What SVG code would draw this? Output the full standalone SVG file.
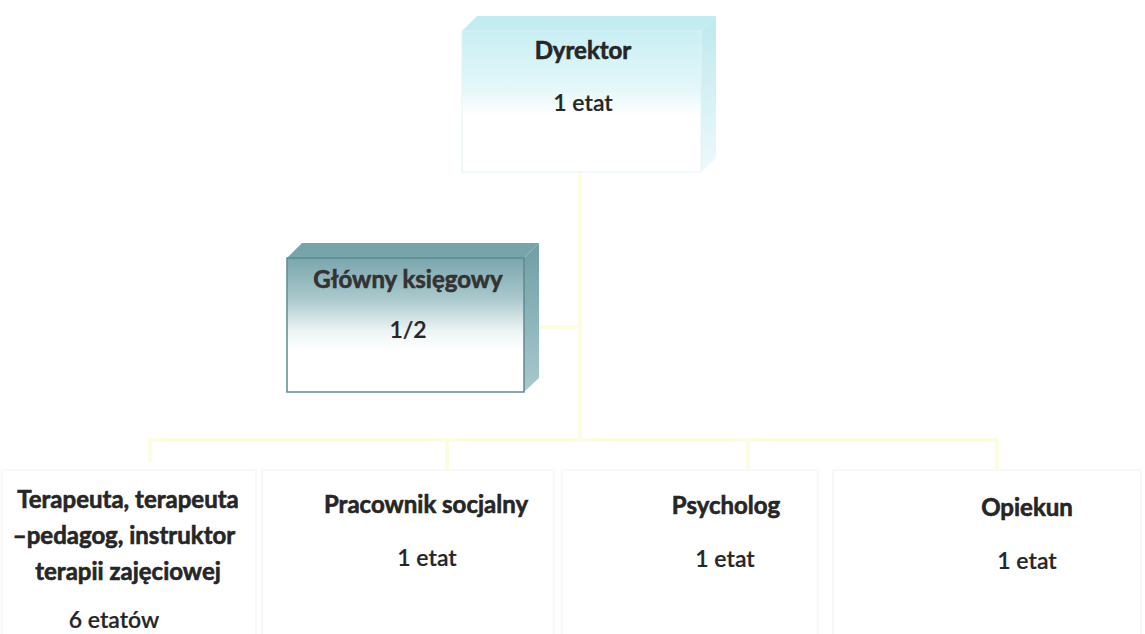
<svg xmlns="http://www.w3.org/2000/svg" width="1145" height="634" viewBox="0 0 1145 634">
<defs>
<linearGradient id="gDir" x1="0" y1="0" x2="0" y2="1">
<stop offset="0" stop-color="#c9eff4"/>
<stop offset="0.4" stop-color="#e3f7f9"/>
<stop offset="0.6" stop-color="#ffffff"/>
<stop offset="1" stop-color="#ffffff"/>
</linearGradient>
<linearGradient id="gDirSide" x1="0" y1="0" x2="0" y2="1">
<stop offset="0" stop-color="#bde9ee"/>
<stop offset="1" stop-color="#eef9fa"/>
</linearGradient>
<linearGradient id="gKs" x1="0" y1="0" x2="0" y2="1">
<stop offset="0" stop-color="#7aa6ad"/>
<stop offset="0.3" stop-color="#a9c8cc"/>
<stop offset="0.55" stop-color="#eef5f5"/>
<stop offset="0.7" stop-color="#ffffff"/>
<stop offset="1" stop-color="#ffffff"/>
</linearGradient>
<linearGradient id="gKsSide" x1="0" y1="0" x2="0" y2="1">
<stop offset="0" stop-color="#6f9ea5"/>
<stop offset="1" stop-color="#a9c9cd"/>
</linearGradient>
</defs>
<style>
.b{font-family:Lato,"Liberation Sans",sans-serif;font-weight:700;fill:#262626;stroke:#262626;stroke-width:0.6;text-anchor:middle;font-size:24px}
.r{font-family:Lato,"Liberation Sans",sans-serif;font-weight:600;fill:#262626;stroke:#262626;stroke-width:0.2;text-anchor:middle;font-size:23px}
.c{stroke:#fcfce3;stroke-width:4;fill:none}
.n{fill:#ffffff;stroke:#f7f9f9;stroke-width:2}
</style>
<rect width="1145" height="634" fill="#ffffff"/>
<g id="connectors">
<path class="c" d="M580 172 V440"/>
<path class="c" d="M538 327 H580"/>
<path class="c" d="M148 440 H998"/>
<path class="c" d="M150 440 V462"/>
<path class="c" d="M447 440 V470"/>
<path class="c" d="M748 440 V470"/>
<path class="c" d="M997 440 V470"/>
</g>
<g id="node-dyrektor">
<polygon points="462,31 477,16 716,16 701,31" fill="#c3ecf1"/>
<polygon points="701,31 716,16 716,158 701,172" fill="url(#gDirSide)"/>
<rect x="462" y="31" width="239" height="141" fill="url(#gDir)" stroke="#e4f2f4" stroke-width="1"/>
<text class="b" x="583" y="59">Dyrektor</text>
<text class="r" x="583" y="111">1 etat</text>
</g>
<g id="node-ksiegowy">
<polygon points="287,258 302,243 539,243 524,258" fill="#77a3aa"/>
<polygon points="524,258 539,243 539,378 524,392" fill="url(#gKsSide)"/>
<rect x="287" y="258" width="237" height="134" fill="url(#gKs)" stroke="#5f8a91" stroke-width="1.5"/>
<text class="b" x="408" y="288" style="fill:#333;stroke:#333">Główny księgowy</text>
<text class="r" x="408" y="338">1/2</text>
</g>
<g id="node-terapeuta">
<rect class="n" x="2" y="470" width="254" height="170"/>
<text class="b" x="128" y="508">Terapeuta, terapeuta</text>
<text class="b" x="124" y="544">–pedagog, instruktor</text>
<text class="b" x="128" y="580">terapii zajęciowej</text>
<text class="r" x="114" y="628">6 etatów</text>
</g>
<g id="node-pracownik">
<rect class="n" x="262" y="470" width="292" height="170"/>
<text class="b" x="426" y="513">Pracownik socjalny</text>
<text class="r" x="427" y="566">1 etat</text>
</g>
<g id="node-psycholog">
<rect class="n" x="562" y="470" width="256" height="170"/>
<text class="b" x="726" y="514">Psycholog</text>
<text class="r" x="725" y="567">1 etat</text>
</g>
<g id="node-opiekun">
<rect class="n" x="833" y="470" width="308" height="170"/>
<text class="b" x="1027" y="516">Opiekun</text>
<text class="r" x="1027" y="569">1 etat</text>
</g>
</svg>
